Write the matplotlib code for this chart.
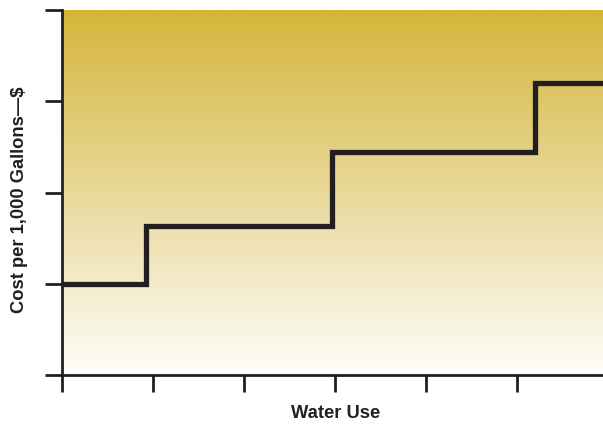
import matplotlib.pyplot as plt
import numpy as np
from matplotlib.colors import LinearSegmentedColormap

# step boundaries (water use) and price per block
x_edges = [0, 0.92, 2.97, 5.2, 5.95]
prices = [1.0, 1.63, 2.44, 3.2]
x_ticks = [0, 1, 2, 3, 4, 5]
y_ticks = [0, 1, 2, 3, 4]

dark = '#231f20'

fig = plt.figure(figsize=(6.03, 4.25), dpi=100)
ax = fig.add_axes([62/603, 50/425, 541/603, 365/425])

# gold to white vertical gradient background
cmap = LinearSegmentedColormap.from_list('gold', ['#fefdfa', '#d4b53a'])
grad = np.linspace(0, 1, 256).reshape(-1, 1)
ax.imshow(grad, aspect='auto', cmap=cmap, origin='lower',
          extent=[0, 5.95, 0, 4], zorder=0)

# stepped rate line
ys = prices + [prices[-1]]
ax.step(x_edges, ys, where='post', color=dark, lw=3.8,
        solid_joinstyle='miter', zorder=3)

ax.set_xlim(0, 5.95)
ax.set_ylim(0, 4)
ax.set_xticks(x_ticks)
ax.set_yticks(y_ticks)
ax.set_xticklabels([])
ax.set_yticklabels([])
ax.tick_params(direction='out', length=12, width=2, color=dark)

for s in ['top', 'right']:
    ax.spines[s].set_visible(False)
for s in ['left', 'bottom']:
    ax.spines[s].set_linewidth(2)
    ax.spines[s].set_color(dark)

fig.text(336/603, 1 - 414/425, 'Water Use', ha='center', va='center',
         fontsize=13.2, fontweight='bold', family='Liberation Sans', color=dark)
fig.text(20/603, 1 - 200/425, 'Cost per 1,000 Gallons\u2014$', ha='center', va='center',
         rotation=90, fontsize=13.2, fontweight='bold', family='Liberation Sans', color=dark)

fig.savefig('out.png', dpi=100)
